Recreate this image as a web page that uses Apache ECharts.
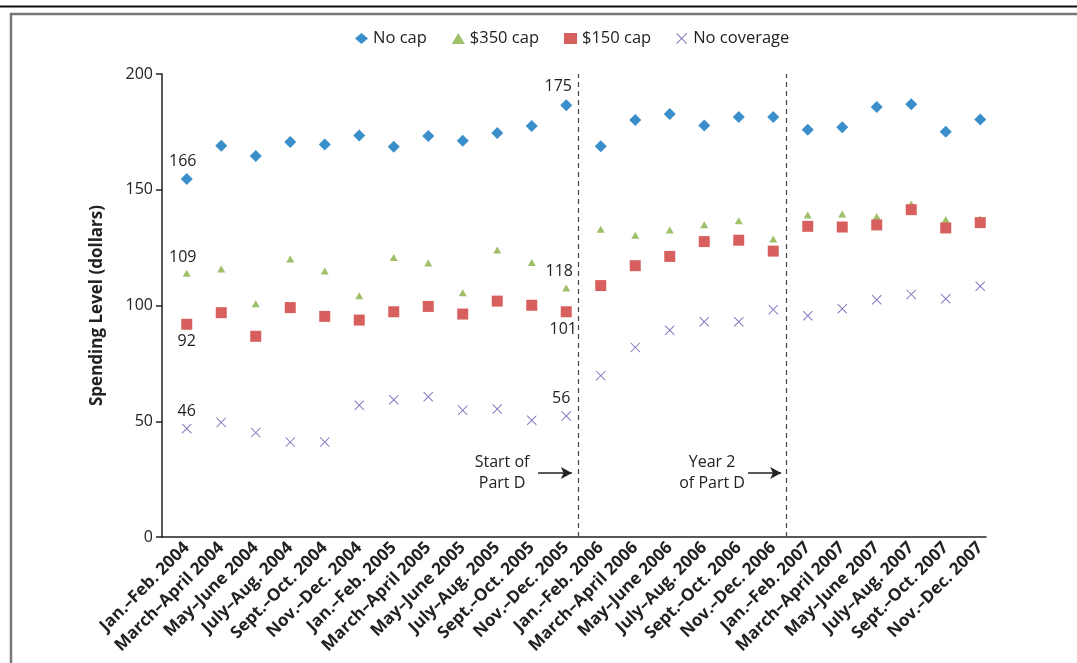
<!DOCTYPE html>
<html><head><meta charset="utf-8">
<script src="https://cdn.jsdelivr.net/npm/echarts@6/dist/echarts.min.js"></script>
<style>html,body{margin:0;padding:0;background:#fff;}#c{width:1077px;height:663px;}</style>
</head><body><div id="c"></div>
<script>
const categories = ["Jan.\u2013Feb. 2004","March\u2013April 2004","May\u2013June 2004","July\u2013Aug. 2004","Sept.\u2013Oct. 2004","Nov.\u2013Dec. 2004","Jan.\u2013Feb. 2005","March\u2013April 2005","May\u2013June 2005","July\u2013Aug. 2005","Sept.\u2013Oct. 2005","Nov.\u2013Dec. 2005","Jan.\u2013Feb. 2006","March\u2013April 2006","May\u2013June 2006","July\u2013Aug. 2006","Sept.\u2013Oct. 2006","Nov.\u2013Dec. 2006","Jan.\u2013Feb. 2007","March\u2013April 2007","May\u2013June 2007","July\u2013Aug. 2007","Sept.\u2013Oct. 2007","Nov.\u2013Dec. 2007"];
const noCap = [154.6,169.0,164.6,170.6,169.5,173.4,168.6,173.2,171.2,174.5,177.5,186.5,168.8,180.1,182.7,177.7,181.4,181.4,175.9,177.0,185.7,186.9,175.1,180.3];
const cap350 = [113.9,115.8,100.8,120.1,114.9,104.2,120.7,118.4,105.5,124.0,118.6,107.6,132.9,130.3,132.6,134.9,136.6,128.7,139.1,139.5,138.4,143.8,137.1,137.5];
const cap150 = [91.9,96.9,86.7,99.1,95.3,93.7,97.3,99.6,96.3,101.9,100.1,97.3,108.6,117.2,121.2,127.6,128.2,123.5,134.2,133.9,134.8,141.4,133.5,135.8];
const noCoverage = [46.9,49.5,45.1,41.0,41.0,56.9,59.3,60.6,54.7,55.3,50.4,52.3,69.7,81.9,89.3,93.0,93.0,98.2,95.6,98.6,102.5,104.8,102.9,108.3];
const seriesNames = ["No cap","$350 cap","$150 cap","No coverage"];
const yTicks = [0,50,100,150,200];
// value labels printed beside points: [series index, point index, text, position]
const annotations = [[0,0,"166","top"],[1,0,"109","top"],[2,0,"92","bottom"],[3,0,"46","top"],
                     [0,11,"175","top"],[1,11,"118","top"],[2,11,"101","bottom"],[3,11,"56","top"]];
const periodMarks = [11.35, 17.38];           // dashed lines, in category-index units
const periodNotes = [["Start of\nPart D", 10.19, 11.17], ["Year 2\nof Part D", 16.28, 17.24]];
const arrowLevel = 27.6;

const FONT = "Open Sans";
const colors = ["#3a8fca","#9fbf68","#d7605e","#8579c2"];
const xPath = 'path://M0,0.7L0.7,0L5,4.3L9.3,0L10,0.7L5.7,5L10,9.3L9.3,10L5,5.7L0.7,10L0,9.3L4.3,5Z';
const symbols = ['diamond','triangle','rect', xPath];
const sizes = [[12,12],[8,7],[11,11],[10,10]];
const allData = [noCap, cap350, cap150, noCoverage];
const labelOffsets = {"0,0":[-4,0],"1,0":[-4,0],"2,0":[0,0],"3,0":[0,0],"0,11":[-8,-1],"1,11":[-7,-1],"2,11":[-3,0],"3,11":[-5,0]};

const series = allData.map((arr, s) => ({
  name: seriesNames[s], type: 'scatter', xAxisIndex: 0, yAxisIndex: 0,
  symbol: symbols[s], symbolSize: sizes[s],
  itemStyle: {color: colors[s], opacity: 1},
  emphasis: {disabled: true},
  z: 3 + s,
  data: arr.map((v, i) => {
    const a = annotations.find(t => t[0] === s && t[1] === i);
    if (!a) return v;
    return {value: v, label: {show: true, formatter: a[2], position: a[3], distance: 4,
      offset: labelOffsets[s+','+i], color: '#222', fontSize: 16, fontFamily: FONT}};
  })
}));

series.push({
  type: 'scatter', xAxisIndex: 1, yAxisIndex: 1, data: [], silent: true,
  markLine: {
    silent: true, symbol: 'none', animation: false,
    lineStyle: {type: [5,4], color: '#444', width: 1.2},
    label: {show: false},
    data: periodMarks.map(x => [{coord: [x, 0]}, {coord: [x, 200]}])
  }
});
series.push({
  type: 'scatter', xAxisIndex: 1, yAxisIndex: 1, data: [], silent: true,
  markLine: {
    silent: true, symbol: ['none','arrow'], symbolSize: [9, 11], animation: false,
    lineStyle: {type: 'solid', color: '#222', width: 1.5},
    label: {show: false},
    data: periodNotes.map(p => [{coord: [p[1], arrowLevel]}, {coord: [p[2], arrowLevel]}])
  }
});

const chart = echarts.init(document.getElementById('c'), null, {renderer: 'canvas'});
chart.setOption({
  animation: false,
  textStyle: {fontFamily: FONT},
  legend: {
    top: 25, left: 350, itemGap: 25, itemWidth: 13, itemHeight: 11,
    textStyle: {fontSize: 16.5, color: '#222', fontFamily: FONT},
    data: seriesNames.map((n, i) => ({name: n, icon: symbols[i]})),
    selectedMode: false
  },
  grid: [
    {left: 169.5, right: 79.5, top: 74, bottom: 126},
    {left: 162, right: 91, top: 74, bottom: 126}
  ],
  xAxis: [
    {type: 'category', gridIndex: 0, data: categories, boundaryGap: true,
     axisLine: {show: false}, axisTick: {show: false}, splitLine: {show: false},
     axisLabel: {rotate: 45, interval: 0, margin: 8, fontSize: 17, fontWeight: 'bold', color: '#222', fontFamily: FONT}},
    {type: 'value', gridIndex: 1, min: -0.716, max: 23.18,
     axisLine: {show: true, onZero: false, lineStyle: {color: '#222', width: 1.5}},
     axisTick: {show: false}, axisLabel: {show: false}, splitLine: {show: false}}
  ],
  yAxis: [
    {type: 'value', gridIndex: 0, min: 0, max: 200, interval: 50, show: false},
    {type: 'value', gridIndex: 1, min: 0, max: 200, interval: 50,
     name: 'Spending Level (dollars)', nameLocation: 'middle', nameGap: 56,
     nameTextStyle: {fontSize: 17, fontWeight: 'bold', color: '#222', fontFamily: FONT},
     axisLine: {show: true, onZero: false, lineStyle: {color: '#222', width: 1.5}},
     axisTick: {show: true, length: 6, lineStyle: {color: '#222', width: 1.5}},
     axisLabel: {fontSize: 16, color: '#222', margin: 9, fontFamily: FONT,
       formatter: v => yTicks.includes(v) ? String(v) : ''},
     splitLine: {show: false}}
  ],
  series: series
});

const frame = [
  {id: 'f1', type: 'line', shape: {x1: 0, y1: 6.5, x2: 1077, y2: 6.5}, style: {stroke: '#111', lineWidth: 2}},
  {id: 'f2', type: 'line', shape: {x1: 10, y1: 14, x2: 1077, y2: 14}, style: {stroke: '#777', lineWidth: 2.5}},
  {id: 'f3', type: 'line', shape: {x1: 11, y1: 13, x2: 11, y2: 663}, style: {stroke: '#777', lineWidth: 2.5}}
];
const notes = periodNotes.map((p, k) => {
  const c = chart.convertToPixel({xAxisIndex: 1, yAxisIndex: 1}, [p[1], arrowLevel]);
  return {id: 'n' + k, type: 'text', x: c[0] - 36, y: c[1], style: {text: p[0], fontSize: 16, fill: '#222',
    fontFamily: FONT, align: 'center', verticalAlign: 'middle', lineHeight: 21}};
});
chart.setOption({graphic: frame.concat(notes)});
</script></body></html>
